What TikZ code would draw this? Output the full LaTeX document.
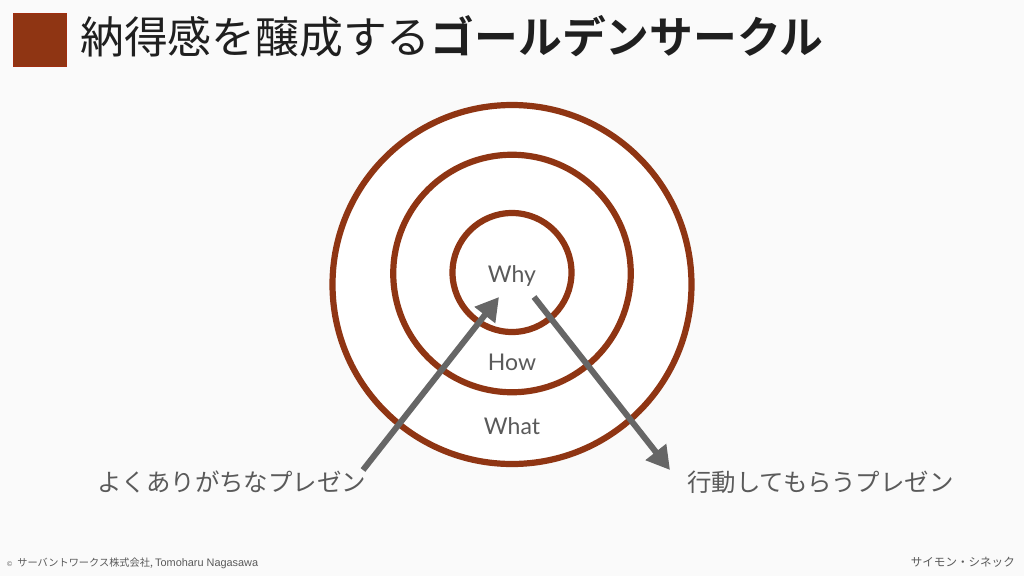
\documentclass[tikz,border=0pt]{standalone}
\usepackage{fontspec}
\usetikzlibrary{arrows.meta}
\setmainfont{Lato}
\newfontfamily\jp{Noto Sans CJK JP}
\newfontfamily\jpb{Noto Sans CJK JP Bold}
\newfontfamily\latin{Liberation Sans}
\definecolor{rust}{HTML}{8F3513}
\definecolor{arrowgray}{HTML}{666666}
\definecolor{textgray}{HTML}{5A5A5A}
\definecolor{bgc}{HTML}{FAFAFA}
\tikzset{
  ring/.style={circle,draw=rust,line width=6.2pt,inner sep=0pt,fill=white},
  ringlabel/.style={text=textgray,font=\fontsize{23}{26}\selectfont,inner sep=0pt},
  arrowlabel/.style={text=textgray,font=\jp\fontsize{24.45}{28}\selectfont,inner sep=0pt},
  foot/.style={text=textgray,font=\fontsize{11}{13}\selectfont,inner sep=0pt},
  bigarrow/.style={draw=arrowgray,line width=6pt,-{Triangle[length=23pt,width=25pt]}},
}
\begin{document}
\begin{tikzpicture}[x=1pt,y=-1pt]
\useasboundingbox (0,0) rectangle (1024,576);
\fill[bgc] (0,0) rectangle (1024,576);
\node[draw=rust!85!red,line width=0.8pt,fill=rust,minimum size=52.5pt,inner sep=0pt] (sq) at (39.8,39.8) {};
\node[anchor=west,inner sep=0pt,text=black!88] (title) at (80,36) {\fontsize{43.8}{48}\selectfont\jp 納得感を醸成する\jpb ゴールデンサークル};
\node[ring,minimum size=359pt] (outer) at (512,284.5) {};
\node[ring,minimum size=237.5pt] (mid) at (512,273.5) {};
\node[ring,minimum size=119pt] (inner) at (512,272.5) {};
\node[ringlabel] (why) at (512,275.5) {Why};
\node[ringlabel] (how) at (512,362.5) {How};
\node[ringlabel] (what) at (512,426.5) {What};
\node[arrowlabel,anchor=west] (left) at (97,482) {よくありがちなプレゼン};
\node[arrowlabel,anchor=west] (right) at (687,482) {行動してもらうプレゼン};
\coordinate (la) at (363,470);
\coordinate (lb) at (499,297);
\coordinate (ra) at (534,297);
\coordinate (rb) at (670,470);
\draw[bigarrow] (la) -- (lb);
\draw[bigarrow] (ra) -- (rb);
\node[foot,anchor=west] (copy) at (7,563.5) {\latin\fontsize{7}{8}\selectfont ©\hspace{5pt}\jp\fontsize{10.2}{13}\selectfont サーバントワークス株式会社, \latin\fontsize{10.9}{13}\selectfont Tomoharu Nagasawa};
\node[foot,anchor=east] (simon) at (1015,562.5) {\jp\fontsize{11.55}{13}\selectfont サイモン・シネック};
\end{tikzpicture}
\end{document}
